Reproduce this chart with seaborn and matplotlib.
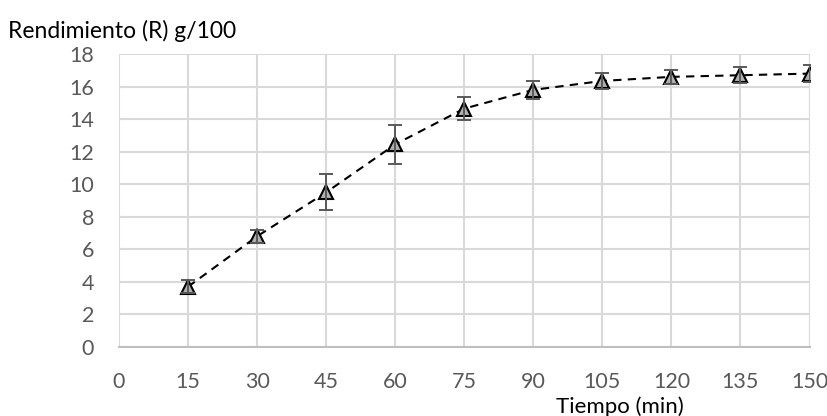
import matplotlib
matplotlib.use("Agg")
import matplotlib.pyplot as plt
import seaborn as sns
import pandas as pd

# Extraction yield over time
tiempo = [15, 30, 45, 60, 75, 90, 105, 120, 135, 150]
rendimiento = [3.7, 6.8, 9.5, 12.45, 14.65, 15.8, 16.35, 16.6, 16.7, 16.8]
error = [0.4, 0.4, 1.1, 1.22, 0.72, 0.55, 0.5, 0.45, 0.5, 0.5]

x_ticks = [0, 15, 30, 45, 60, 75, 90, 105, 120, 135, 150]
y_ticks = [0, 2, 4, 6, 8, 10, 12, 14, 16, 18]

df = pd.DataFrame({"Tiempo": tiempo, "Rendimiento": rendimiento, "Error": error})

sns.set_theme(style="white")
plt.rcParams["font.family"] = ["Lato", "DejaVu Sans"]

fig = plt.figure(figsize=(8.28, 4.16), dpi=100)
ax = fig.add_axes([0.1437, 0.166, 0.834, 0.704])

grid_color = "#d9d9d9"
tick_color = "#595959"

sns.lineplot(data=df, x="Tiempo", y="Rendimiento", ax=ax, color="black",
             linestyle=(0, (4, 3)), linewidth=1.5, zorder=3)
ax.errorbar(df["Tiempo"], df["Rendimiento"], yerr=df["Error"], fmt="none",
            ecolor="#595959", elinewidth=1.4, capsize=5, capthick=1.4, zorder=5)
ax.plot(df["Tiempo"], df["Rendimiento"], linestyle="none", marker="^",
        markersize=10, markerfacecolor="#b0b0b0", markeredgecolor="black",
        markeredgewidth=1.5, zorder=4)

ax.set_xlim(0, 150)
ax.set_ylim(0, 18)
ax.set_xticks(x_ticks)
ax.set_yticks(y_ticks)
ax.grid(True, color=grid_color, linewidth=1.5)
ax.set_axisbelow(True)
for side in ["top", "right", "left"]:
    ax.spines[side].set_visible(False)
ax.spines["bottom"].set_color("#bfbfbf")
ax.spines["bottom"].set_linewidth(1.5)

ax.tick_params(axis="both", length=0, labelsize=15.5, labelcolor=tick_color)
ax.tick_params(axis="x", pad=18)
ax.tick_params(axis="y", pad=18)

ax.set_xlabel("")
ax.set_ylabel("")
fig.text(0.01, 0.925, "Rendimiento (R) g/100", fontsize=16.5, color="black",
         ha="left", va="center")
fig.text(0.749, 0.022, "Tiempo (min)", fontsize=16, color="black",
         ha="center", va="center")

fig.savefig("out.png", dpi=100)
